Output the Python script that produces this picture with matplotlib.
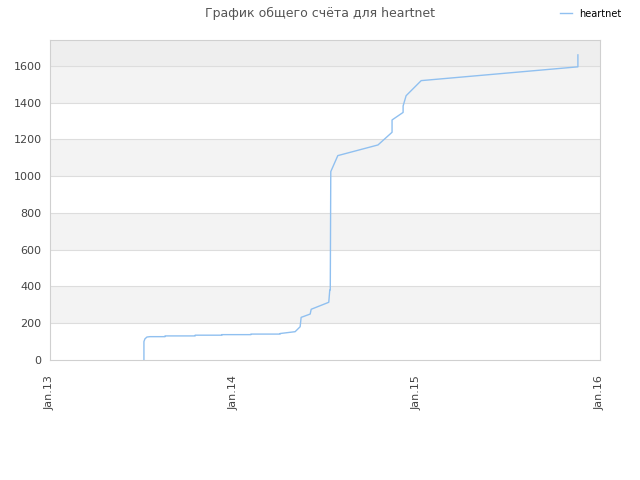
import numpy as np
import pandas as pd
import matplotlib
matplotlib.use("Agg")
import matplotlib.pyplot as plt
import matplotlib.dates as mdates

# score history
dates = ["2013-07-07", "2013-07-07", "2013-07-09", "2013-07-13", "2013-07-19",
         "2013-08-18", "2013-08-18", "2013-10-17", "2013-10-17", "2013-12-09",
         "2013-12-09", "2014-02-05", "2014-02-05", "2014-04-04", "2014-04-04",
         "2014-05-04", "2014-05-14", "2014-05-16", "2014-06-03", "2014-06-05",
         "2014-07-10", "2014-07-12", "2014-07-13", "2014-07-14", "2014-07-28",
         "2014-10-16", "2014-11-13", "2014-11-13", "2014-12-05", "2014-12-05",
         "2014-12-11", "2015-01-10", "2015-11-18", "2015-11-18"]
scores = [0, 100, 115, 125, 127,
          127, 131, 131, 135, 135,
          138, 138, 141, 141, 144,
          154, 181, 232, 250, 276,
          314, 381, 381, 1025, 1112,
          1170, 1239, 1306, 1347, 1382,
          1438, 1520, 1595, 1660]

x = pd.to_datetime(dates)
xticks = pd.to_datetime(["2013-01-01", "2014-01-01", "2015-01-01", "2016-01-01"])
xlabels = ["Jan.13", "Jan.14", "Jan.15", "Jan.16"]
yticks = [0, 200, 400, 600, 800, 1000, 1200, 1400, 1600]

fig = plt.figure(figsize=(6.4, 4.8), dpi=100)
ax = fig.add_axes([50/640, 120/480, 550/640, 320/480])

ymax = 1741
# alternating bands
for i, lo in enumerate(yticks):
    hi = min(lo + 200, ymax)
    if i % 2 == 1:
        ax.axhspan(lo, hi, color="#f3f3f3", zorder=0, lw=0)
ax.axhspan(1600, ymax, color="#eeeeee", zorder=0, lw=0)
for v in yticks[1:]:
    ax.axhline(v, color="#dddddd", lw=0.8, zorder=1)

ax.plot(x, scores, color="#90c0f0", lw=1.0, label="heartnet", zorder=3)

ax.set_xlim(xticks[0], xticks[-1])
ax.set_ylim(0, ymax)
ax.set_xticks(xticks)
ax.set_xticklabels(xlabels, rotation=90, fontsize=8, color="#444444")
ax.set_yticks(yticks)
ax.set_yticklabels([str(v) for v in yticks], fontsize=8, color="#444444")
ax.tick_params(length=0, pad=6)
ax.tick_params(axis="x", pad=11)
for s in ax.spines.values():
    s.set_color("#d0d0d0")
    s.set_linewidth(0.8)

fig.text(0.5, 0.972, "График общего счёта для heartnet", ha="center", va="center",
         fontsize=9, color="#555555")
fig.legend(loc="upper right", bbox_to_anchor=(0.985, 1.0), frameon=False,
           fontsize=7, handlelength=1.2)

fig.savefig("out.png", dpi=100)
